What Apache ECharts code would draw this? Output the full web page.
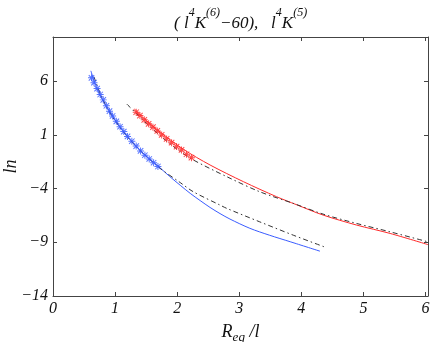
<!DOCTYPE html>
<html>
<head>
<meta charset="utf-8">
<script src="https://cdn.jsdelivr.net/npm/echarts@6/dist/echarts.min.js"></script>
<style>
  html, body { margin: 0; padding: 0; background: #fff; }
  #main { width: 436px; height: 342px; }
</style>
</head>
<body>
<div id="main"></div>
<script>
// values
var xTicks = [0, 1, 2, 3, 4, 5, 6];
var yTicks = [-14, -9, -4, 1, 6];

var blueLineX = [0.61, 0.70, 0.78, 0.86, 0.95, 1.05, 1.16, 1.29, 1.45, 1.62, 1.72, 1.88, 2.05, 2.21, 2.37, 2.53, 2.69, 2.85, 3.17, 3.49, 3.82, 4.30];
var blueLineY = [6.95, 5.40, 4.45, 3.65, 2.85, 1.95, 1.15, 0.22, -0.72, -1.55, -2.05, -2.88, -3.70, -4.45, -5.12, -5.76, -6.33, -6.84, -7.70, -8.35, -8.95, -9.83];

var blueStarX = [0.62, 0.66, 0.71, 0.76, 0.81, 0.86, 0.91, 0.96, 1.02, 1.08, 1.14, 1.20, 1.27, 1.34, 1.41, 1.48, 1.55, 1.62, 1.69];
var blueStarY = [6.30, 5.85, 5.30, 4.75, 4.25, 3.70, 3.20, 2.75, 2.25, 1.75, 1.30, 0.85, 0.40, -0.05, -0.50, -0.90, -1.25, -1.60, -1.95];

var blueFitX = [0.66, 0.80, 1.00, 1.30, 1.70, 2.05, 2.26, 2.69, 2.80, 3.33, 3.87, 4.38];
var blueFitY = [6.40, 4.30, 2.30, 0.15, -2.00, -3.45, -4.30, -5.54, -5.85, -7.10, -8.34, -9.45];

var redLineX = [1.31, 1.50, 1.75, 2.10, 2.53, 3.07, 3.60, 3.92, 4.35, 4.89, 5.43, 6.04];
var redLineY = [3.40, 2.35, 1.15, -0.35, -1.81, -3.37, -4.76, -5.50, -6.47, -7.40, -8.18, -9.22];

var redStarX = [1.34, 1.40, 1.47, 1.54, 1.61, 1.68, 1.75, 1.83, 1.91, 1.99, 2.07, 2.15, 2.23];
var redStarY = [3.10, 2.79, 2.39, 2.02, 1.71, 1.36, 0.99, 0.62, 0.27, -0.10, -0.41, -0.81, -1.13];

var redFitX = [1.19, 1.33, 1.50, 1.75, 2.00, 2.26, 2.80, 3.33, 3.87, 4.35, 4.89, 5.43, 6.04];
var redFitY = [3.85, 3.05, 2.10, 0.80, -0.35, -1.34, -2.90, -4.30, -5.38, -6.38, -7.25, -8.03, -8.96];

function pairs(xs, ys) {
    var out = [];
    for (var i = 0; i < xs.length; i++) {
        out.push([xs[i], ys[i]]);
    }
    return out;
}

// asterisk marker, like matlab '*'
var star = 'path://M4.3 0H5.7V10H4.3Z M0 4.3H10V5.7H0Z M0.6 1.6L1.6 0.6L9.4 8.4L8.4 9.4Z M8.4 0.6L9.4 1.6L1.6 9.4L0.6 8.4Z';

function tickLabel(v) {
    if (Math.abs(v - Math.round(v)) > 1e-6) return '';
    return String(Math.round(v)).replace('-', '\u2212');
}

var axisColor = '#444';
var serif = 'Liberation Serif';
var labelFont = {
    color: '#111',
    fontFamily: serif,
    fontStyle: 'italic',
    fontSize: 16
};

var myChart = echarts.init(document.getElementById('main'), null, { renderer: 'canvas' });
var option = {
    animation: false,
    backgroundColor: '#fff',
    title: {
        left: 169,
        top: 2,
        text: '{n|( l}{s|4}{n|K}{s|(6)}{n|\u221260),   l}{s|4}{n|K}{s|(5)}',
        textStyle: {
            fontWeight: 'normal',
            rich: {
                n: { fontFamily: serif, fontStyle: 'italic', fontWeight: 'normal', fontSize: 17, color: '#111', lineHeight: 25, verticalAlign: 'bottom' },
                s: { fontFamily: serif, fontStyle: 'italic', fontWeight: 'normal', fontSize: 12, color: '#111', lineHeight: 14, verticalAlign: 'top' }
            }
        }
    },
    grid: {
        left: 53,
        right: 8,
        top: 37,
        bottom: 46,
        containLabel: false,
        outerBoundsMode: 'none'
    },
    xAxis: [
        {
            type: 'value',
            min: 0,
            max: 6.04,
            interval: 1,
            name: '{n|R}{sub|eq}{n| /l}',
            nameLocation: 'middle',
            nameGap: 27,
            nameMoveOverlap: false,
            nameTextStyle: {
                rich: {
                    n: { fontFamily: serif, fontStyle: 'italic', fontSize: 18, color: '#111', lineHeight: 18, verticalAlign: 'top' },
                    sub: { fontFamily: serif, fontStyle: 'italic', fontSize: 13, color: '#111', lineHeight: 12, padding: [8, 0, 0, 0], verticalAlign: 'top' }
                }
            },
            splitLine: { show: false },
            axisLine: { onZero: false, lineStyle: { color: axisColor, width: 1 } },
            axisTick: { inside: true, length: 4, lineStyle: { color: axisColor } },
            axisLabel: Object.assign({ margin: 5, formatter: tickLabel, showMaxLabel: true }, labelFont)
        },
        {
            type: 'value',
            position: 'top',
            min: 0,
            max: 6.04,
            interval: 1,
            splitLine: { show: false },
            axisLine: { onZero: false, lineStyle: { color: axisColor, width: 1 } },
            axisTick: { inside: true, length: 4, lineStyle: { color: axisColor } },
            axisLabel: { show: false }
        }
    ],
    yAxis: [
        {
            type: 'value',
            min: -14,
            max: 10.1,
            interval: 5,
            name: 'ln',
            nameLocation: 'middle',
            nameGap: 33,
            nameMoveOverlap: false,
            nameRotate: 90,
            nameTextStyle: { fontFamily: serif, fontStyle: 'italic', fontSize: 18, color: '#111' },
            splitLine: { show: false },
            axisLine: { onZero: false, lineStyle: { color: axisColor, width: 1 } },
            axisTick: { inside: true, length: 4, lineStyle: { color: axisColor } },
            axisLabel: Object.assign({ margin: 5, formatter: tickLabel }, labelFont)
        },
        {
            type: 'value',
            position: 'right',
            min: -14,
            max: 10.1,
            interval: 5,
            splitLine: { show: false },
            axisLine: { onZero: false, lineStyle: { color: axisColor, width: 1 } },
            axisTick: { inside: true, length: 4, lineStyle: { color: axisColor } },
            axisLabel: { show: false }
        }
    ],
    series: [
        {
            name: 'blue',
            type: 'line',
            data: pairs(blueLineX, blueLineY),
            smooth: 0.3,
            showSymbol: false,
            lineStyle: { color: '#3a5cff', width: 1 },
            z: 2
        },
        {
            name: 'blue fit',
            type: 'line',
            data: pairs(blueFitX, blueFitY),
            smooth: 0.3,
            showSymbol: false,
            lineStyle: { color: '#333', width: 1, type: [5, 3, 1.5, 3] },
            z: 3
        },
        {
            name: 'blue stars',
            type: 'scatter',
            data: pairs(blueStarX, blueStarY),
            symbol: star,
            symbolSize: 7,
            itemStyle: { color: '#3a5cff', opacity: 0.85 },
            z: 4
        },
        {
            name: 'red',
            type: 'line',
            data: pairs(redLineX, redLineY),
            smooth: 0.3,
            showSymbol: false,
            lineStyle: { color: '#ff2a2a', width: 1 },
            z: 2
        },
        {
            name: 'red fit',
            type: 'line',
            data: pairs(redFitX, redFitY),
            smooth: 0.3,
            showSymbol: false,
            lineStyle: { color: '#333', width: 1, type: [5, 3, 1.5, 3] },
            z: 3
        },
        {
            name: 'red stars',
            type: 'scatter',
            data: pairs(redStarX, redStarY),
            symbol: star,
            symbolSize: 7,
            itemStyle: { color: '#ff2a2a', opacity: 0.85 },
            z: 4
        }
    ]
};

myChart.setOption(option);
</script>
</body>
</html>
